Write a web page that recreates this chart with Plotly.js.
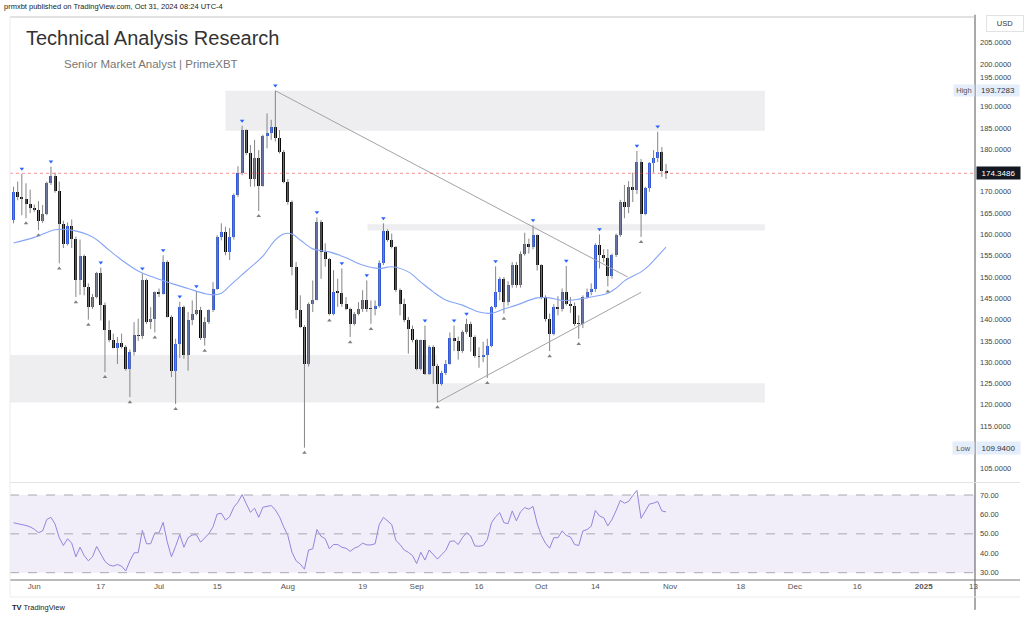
<!DOCTYPE html>
<html><head><meta charset="utf-8">
<script src="https://cdn.plot.ly/plotly-3.0.1.min.js"></script>
<style>html,body{margin:0;padding:0;background:#fff;}#chart{width:1024px;height:618px;}</style>
</head><body><div id="chart"></div>
<script>
// ---------- DATA ----------
const dates = [
'2024-05-27','2024-05-28','2024-05-29','2024-05-30','2024-05-31',
'2024-06-01','2024-06-02','2024-06-03','2024-06-04','2024-06-05','2024-06-06','2024-06-07','2024-06-08','2024-06-09','2024-06-10',
'2024-06-11','2024-06-12','2024-06-13','2024-06-14','2024-06-15','2024-06-16','2024-06-17','2024-06-18','2024-06-19','2024-06-20',
'2024-06-21','2024-06-22','2024-06-23','2024-06-24','2024-06-25','2024-06-26','2024-06-27','2024-06-28','2024-06-29','2024-06-30',
'2024-07-01','2024-07-02','2024-07-03','2024-07-04','2024-07-05','2024-07-06','2024-07-07','2024-07-08','2024-07-09','2024-07-10',
'2024-07-11','2024-07-12','2024-07-13','2024-07-14','2024-07-15','2024-07-16','2024-07-17','2024-07-18','2024-07-19','2024-07-20',
'2024-07-21','2024-07-22','2024-07-23','2024-07-24','2024-07-25','2024-07-26','2024-07-27','2024-07-28','2024-07-29','2024-07-30','2024-07-31',
'2024-08-01','2024-08-02','2024-08-03','2024-08-04','2024-08-05','2024-08-06','2024-08-07','2024-08-08','2024-08-09','2024-08-10',
'2024-08-11','2024-08-12','2024-08-13','2024-08-14','2024-08-15','2024-08-16','2024-08-17','2024-08-18','2024-08-19','2024-08-20',
'2024-08-21','2024-08-22','2024-08-23','2024-08-24','2024-08-25','2024-08-26','2024-08-27','2024-08-28','2024-08-29','2024-08-30','2024-08-31',
'2024-09-01','2024-09-02','2024-09-03','2024-09-04','2024-09-05','2024-09-06','2024-09-07','2024-09-08','2024-09-09','2024-09-10',
'2024-09-11','2024-09-12','2024-09-13','2024-09-14','2024-09-15','2024-09-16','2024-09-17','2024-09-18','2024-09-19','2024-09-20',
'2024-09-21','2024-09-22','2024-09-23','2024-09-24','2024-09-25','2024-09-26','2024-09-27','2024-09-28','2024-09-29','2024-09-30',
'2024-10-01','2024-10-02','2024-10-03','2024-10-04','2024-10-05','2024-10-06','2024-10-07','2024-10-08','2024-10-09','2024-10-10',
'2024-10-11','2024-10-12','2024-10-13','2024-10-14','2024-10-15','2024-10-16','2024-10-17','2024-10-18','2024-10-19','2024-10-20',
'2024-10-21','2024-10-22','2024-10-23','2024-10-24','2024-10-25','2024-10-26','2024-10-27','2024-10-28','2024-10-29','2024-10-30','2024-10-31'
];
const openP = [
163.3,169.9,168.8,168.2,167.2,
166.2,165.7,163.1,164.9,172.0,173.7,170.3,162.4,157.8,162.0,159.0,149.4,154.9,147.7,143.0,145.3,151.0,143.4,137.5,135.3,133.4,134.5,133.5,128.5,132.4,136.5,136.2,149.2,139.4,140.2,
146.5,146.1,153.5,140.6,128.0,134.2,143.0,131.6,139.8,141.4,142.3,135.6,139.4,142.2,147.3,159.4,160.6,155.9,159.3,169.2,174.3,184.5,179.0,173.1,177.9,171.4,183.1,183.9,185.1,182.6,179.4,
172.4,167.6,152.4,142.2,138.3,129.6,143.7,144.7,163.0,155.9,154.3,141.4,146.5,146.3,143.7,142.6,139.0,141.4,142.6,144.5,142.6,142.4,143.2,153.2,160.8,158.8,157.1,146.9,143.7,139.8,137.9,
135.1,128.5,135.1,127.3,133.6,129.2,124.9,127.4,129.6,135.6,135.0,132.6,137.0,139.0,135.9,131.4,131.2,131.6,133.9,143.0,146.5,149.6,144.1,148.1,152.8,148.1,155.5,157.7,157.1,159.8,
152.8,145.3,140.2,136.7,143.0,142.6,146.5,143.7,143.3,139.0,138.9,145.3,146.5,147.3,157.5,155.1,154.5,150.2,155.1,159.8,167.7,166.4,171.2,170.5,177.1,164.9,170.8,176.7,177.9,179.4,174.9
];
const highP = [
171.2,172.4,174.2,172.0,170.5,
167.0,167.8,166.9,172.4,175.9,174.5,172.4,163.2,162.8,163.5,159.5,158.8,155.3,148.5,146.0,151.2,152.2,144.0,139.8,136.7,135.9,136.7,134.0,133.0,139.4,140.2,150.8,149.6,142.9,146.6,
147.3,155.1,153.9,141.0,135.5,144.2,143.3,141.8,144.5,146.6,143.0,140.6,142.4,148.8,159.8,162.6,161.8,161.5,169.6,176.0,185.5,184.7,181.0,182.2,179.8,183.4,188.4,186.9,193.7283,184.5,179.8,
173.0,168.0,153.5,145.7,138.7,144.0,149.2,164.0,163.4,157.9,154.5,151.6,149.6,152.0,145.3,142.8,141.8,144.1,146.9,149.2,144.5,144.5,153.9,162.6,161.2,160.2,157.3,147.3,144.9,140.6,138.6,
135.5,135.3,138.6,134.0,134.0,129.6,128.0,130.5,137.0,138.6,136.0,137.5,140.2,139.5,136.3,133.5,134.8,135.5,143.2,152.5,150.0,150.0,149.0,153.5,153.5,156.0,160.4,159.0,162.1,160.0,
153.0,145.7,141.4,143.6,145.5,147.3,152.6,145.3,144.0,141.0,145.7,147.3,148.5,157.9,160.0,156.5,156.5,155.5,160.2,168.1,171.6,172.5,174.5,179.6,177.7,171.2,177.0,179.8,184.1,180.5,176.5
];
const lowP = [
162.6,168.0,164.5,163.8,165.0,
165.3,161.0,162.7,164.5,171.6,169.8,153.2,156.8,157.4,156.8,145.3,145.8,145.7,140.0,142.5,145.0,139.8,127.7,134.7,133.2,129.6,133.2,128.0,121.8,131.6,135.0,135.5,139.0,137.8,137.0,
145.3,145.9,140.5,126.5,120.2,131.0,130.8,128.0,138.7,141.0,135.2,133.9,139.0,141.8,147.0,158.6,155.1,154.0,158.8,168.8,173.9,178.6,171.2,171.2,165.5,171.2,180.2,182.2,181.8,179.0,172.0,
167.0,150.4,140.2,138.0,109.94,129.0,141.8,144.5,149.6,152.4,141.0,141.0,143.0,143.0,142.2,135.9,138.6,141.0,141.8,141.8,139.0,141.0,142.8,152.8,158.3,156.7,146.5,141.0,139.4,132.0,134.7,
128.1,128.1,127.0,127.0,124.9,120.6,124.5,127.0,129.4,132.6,130.6,132.2,136.6,132.5,131.0,128.7,130.0,126.3,133.5,142.6,144.5,141.4,143.3,147.5,147.5,147.5,155.0,155.5,156.5,151.5,
144.8,139.5,132.6,136.3,141.0,141.9,143.3,141.6,138.5,135.5,138.0,144.9,145.7,146.5,152.0,153.5,147.8,149.6,154.7,159.4,163.8,165.0,167.6,169.5,159.4,164.5,170.0,174.5,177.0,173.5,173.0
];
const closeP = [
169.9,168.8,168.2,167.2,166.2,
165.7,163.1,164.9,172.0,173.7,170.3,162.4,157.8,162.0,159.0,149.4,154.9,147.7,143.0,145.3,151.0,143.4,137.5,135.3,133.4,134.5,133.5,128.5,132.4,136.5,136.2,149.2,139.4,140.2,146.5,
146.1,153.5,140.6,128.0,134.2,143.0,131.6,139.8,141.4,142.3,135.6,139.4,142.2,147.3,159.4,160.6,155.9,159.3,169.2,174.3,184.5,179.0,173.1,177.9,171.4,183.1,183.9,185.1,182.6,179.4,172.4,
167.6,152.4,142.2,138.3,129.6,143.7,144.7,163.0,155.9,154.3,141.4,146.5,146.3,143.7,142.6,139.0,141.4,142.6,144.5,142.6,142.4,143.2,153.2,160.8,158.8,157.1,146.9,143.7,139.8,137.9,135.1,
128.5,135.1,127.3,133.6,129.2,124.9,127.4,129.6,135.6,135.0,132.6,137.0,139.0,135.9,131.4,131.2,131.6,133.9,143.0,146.5,149.6,144.1,148.1,152.8,148.1,155.5,157.7,157.1,159.8,152.8,
145.3,140.2,136.7,143.0,142.6,146.5,143.7,143.3,139.0,138.9,145.3,146.5,147.3,157.5,155.1,154.5,150.2,155.1,159.8,167.7,166.4,171.2,170.5,177.1,164.9,170.8,176.7,177.9,179.4,174.9,174.3486
];
const rsiValues = [
55.7,55.3,54.8,54.3,53.6,
52.4,50.6,51.5,57.4,58.5,55.0,48.0,44.0,47.5,45.2,38.2,43.1,38.8,36.1,38.2,43.5,39.3,35.8,34.0,33.4,34.2,33.4,30.9,36.1,40.2,40.3,51.8,44.9,44.9,50.5,
50.5,55.9,45.7,38.2,43.6,49.6,43.1,48.0,49.4,49.6,45.7,48.0,50.1,53.6,60.2,60.6,57.1,58.8,63.7,66.3,70.2,65.5,61.1,63.2,58.5,63.7,64.2,64.6,62.3,58.8,53.6,
49.2,40.5,36.1,34.4,31.8,41.7,42.3,52.2,48.7,47.5,42.3,44.5,44.5,43.1,42.6,41.0,42.6,43.5,45.2,44.3,44.3,44.9,54.8,58.5,56.7,54.8,46.6,44.5,41.7,40.5,38.8,
34.7,40.5,36.5,41.7,39.3,37.0,39.3,41.4,46.1,46.4,44.5,48.0,50.6,48.9,43.8,43.6,44.0,47.0,55.7,58.8,60.9,55.7,55.3,61.8,56.7,61.4,63.5,62.7,64.1,55.3,
49.2,45.2,42.6,48.0,48.0,51.5,49.2,48.4,44.5,44.0,51.5,52.2,53.9,62.0,59.2,58.3,54.1,57.4,62.0,67.2,65.8,66.7,69.7,72.4,58.0,61.4,65.3,65.8,66.7,61.8,61.3
];
const maDates = ['2024-05-27','2024-06-01','2024-06-06','2024-06-10','2024-06-15','2024-06-19','2024-06-22','2024-06-26','2024-06-30','2024-07-04','2024-07-08','2024-07-12','2024-07-14','2024-07-16','2024-07-18','2024-07-22','2024-07-26','2024-07-29','2024-07-31','2024-08-02','2024-08-04','2024-08-07','2024-08-11','2024-08-15','2024-08-19','2024-08-23','2024-08-26','2024-08-30','2024-09-02','2024-09-05','2024-09-08','2024-09-12','2024-09-16','2024-09-19','2024-09-22','2024-09-25','2024-09-30','2024-10-03','2024-10-06','2024-10-10','2024-10-13','2024-10-17','2024-10-19','2024-10-21','2024-10-23','2024-10-25','2024-10-27','2024-10-29','2024-10-31'];
const maValues = [158.0,159.3,161.1,161.0,159.4,156.3,154.0,151.4,149.8,148.5,147.3,146.1,145.8,146.2,147.9,151.4,154.9,158.7,160.1,160.1,158.7,156.6,155.9,154.5,152.8,152.0,152.4,151.2,148.8,146.5,144.6,143.4,141.8,141.5,142.5,143.4,145.1,145.1,144.5,144.8,145.3,146.2,147.4,149.1,150.2,151.2,152.8,154.9,157.0];
const pivotHighDates = ['2024-05-29','2024-06-05','2024-06-17','2024-06-27','2024-07-02','2024-07-06','2024-07-10','2024-07-21','2024-07-29','2024-08-08','2024-08-14','2024-08-20','2024-08-24','2024-09-03','2024-09-10','2024-09-13','2024-09-20','2024-09-29','2024-10-07','2024-10-15','2024-10-24','2024-10-29'];
const pivotLowDates = ['2024-05-30','2024-06-02','2024-06-07','2024-06-11','2024-06-14','2024-06-18','2024-06-24','2024-06-30','2024-07-05','2024-07-12','2024-07-25','2024-08-05','2024-08-11','2024-08-16','2024-08-21','2024-09-06','2024-09-18','2024-09-22','2024-10-03','2024-10-10','2024-10-17','2024-10-25'];
const zoneStart = ['2024-07-17','2024-08-20 04:00','2024-05-26 03:36','2024-09-05 22:00'];
const zoneEnd = ['2024-11-23 19:00','2024-11-23 19:00','2024-09-05 22:00','2024-11-23 19:00'];
const zoneTop = [193.7, 162.4, 131.7, 125.05];
const zoneBottom = [184.35, 160.9, 120.55, 120.55];
const trendStartDate = ['2024-07-29','2024-09-06'];
const trendStartPrice = [193.7283, 120.6];
const trendEndDate = ['2024-10-21 19:00','2024-10-25'];
const trendEndPrice = [150.0, 146.4];
const lastPrice = 174.3486, highValue = 193.7283, lowValue = 109.94;
const priceTicks = [105,115,120,125,130,135,140,145,150,155,160,165,170,180,185,190,200,205];
const coveredTick = 195;
const rsiTicks = [30,40,50,60,70];
const xTickDates = ['2024-06-01','2024-06-17','2024-07-01','2024-07-15','2024-08-01','2024-08-19','2024-09-01','2024-09-16','2024-10-01','2024-10-14','2024-11-01','2024-11-18','2024-12-01','2024-12-16','2025-01-01','2025-01-13'];
const xTickText = ['Jun','17','Jul','15','Aug','19','Sep','16','Oct','14','Nov','18','Dec','16','<b>2025</b>','13'];

// ---------- BUILD ----------
const FONT = 'Liberation Sans, Arial, sans-serif';
const xRange = ['2024-05-26 03:36','2025-01-13 08:24'];
const wx = [], wy = [];
for (let i = 0; i < dates.length; i++) { wx.push(dates[i], dates[i], null); wy.push(lowP[i], highP[i], null); }
const upX=[],upB=[],upH=[],dnX=[],dnB=[],dnH=[];
for (let i = 0; i < dates.length; i++) {
  const b = Math.min(openP[i], closeP[i]); const h = Math.max(Math.abs(closeP[i]-openP[i]), 0.3);
  if (closeP[i] >= openP[i]) { upX.push(dates[i]); upB.push(b); upH.push(h); }
  else { dnX.push(dates[i]); dnB.push(b); dnH.push(h); }
}
const bw = 0.72*86400000;
const phY = pivotHighDates.map(d => highP[dates.indexOf(d)] + 1.2);
const plY = pivotLowDates.map(d => lowP[dates.indexOf(d)] - 1.2);

const traces = [
  {type:'scatter', mode:'lines', x:wx, y:wy, line:{color:'#858585', width:1}, hoverinfo:'skip', xaxis:'x', yaxis:'y'},
  {type:'bar', x:upX, base:upB, y:upH, width:bw, marker:{color:'#3158d8', line:{width:0}}, xaxis:'x', yaxis:'y'},
  {type:'bar', x:dnX, base:dnB, y:dnH, width:bw, marker:{color:'#0a0a0a', line:{width:0}}, xaxis:'x', yaxis:'y'},
  {type:'scatter', mode:'lines', x:maDates, y:maValues, line:{color:'#86a5f6', width:1.1, shape:'spline'}, xaxis:'x', yaxis:'y'},
  {type:'scatter', mode:'markers', x:pivotHighDates, y:phY, marker:{symbol:'triangle-down', size:4, color:'#2962ff'}, xaxis:'x', yaxis:'y'},
  {type:'scatter', mode:'markers', x:pivotLowDates, y:plY, marker:{symbol:'triangle-up', size:4, color:'#808080'}, xaxis:'x', yaxis:'y'},
  {type:'scatter', mode:'lines', x:dates, y:rsiValues, line:{color:'#9385dc', width:1}, xaxis:'x2', yaxis:'y2'}
];

const shapes = [];
for (let i = 0; i < zoneStart.length; i++) {
  shapes.push({type:'rect', xref:'x', yref:'y', x0:zoneStart[i], x1:zoneEnd[i], y0:zoneBottom[i], y1:zoneTop[i], fillcolor:'#eeeef1', line:{width:0}, layer:'below'});
}
for (let i = 0; i < trendStartDate.length; i++) {
  shapes.push({type:'line', xref:'x', yref:'y', x0:trendStartDate[i], y0:trendStartPrice[i], x1:trendEndDate[i], y1:trendEndPrice[i], line:{color:'#a3a3a3', width:1}});
}
shapes.push({type:'rect', xref:'paper', yref:'y2', x0:0, x1:1, y0:30, y1:70, fillcolor:'#f1eef9', line:{width:0}, layer:'below'});
[70,50,30].forEach(v => shapes.push({type:'line', xref:'paper', yref:'y2', x0:0, x1:1, y0:v, y1:v, line:{color:'#a8a8b0', width:1, dash:'dash'}}));
shapes.push({type:'line', xref:'paper', yref:'y', x0:0, x1:1, y0:lastPrice, y1:lastPrice, line:{color:'rgba(242,54,69,0.55)', width:1, dash:'dot'}});
shapes.push({type:'line', xref:'paper', yref:'paper', x0:1, x1:1, y0:-0.053, y1:1.004, line:{color:'#555', width:1}});
shapes.push({type:'line', xref:'paper', yref:'paper', x0:0, x1:1.0466, y0:0, y1:0, line:{color:'#777', width:1}});
shapes.push({type:'line', xref:'paper', yref:'paper', x0:0, x1:1.0466, y0:0.1732, y1:0.1732, line:{color:'#e4e4e4', width:1}});
shapes.push({type:'line', xref:'paper', yref:'paper', x0:0, x1:1, y0:1.0, y1:1.0, line:{color:'#c4c4c4', width:1}});
shapes.push({type:'line', xref:'paper', yref:'paper', x0:0, x1:0, y0:-0.03, y1:1.0, line:{color:'#ececec', width:1}});
shapes.push({type:'line', xref:'paper', yref:'paper', x0:0, x1:1.0466, y0:-0.0302, y1:-0.0302, line:{color:'#ececec', width:1}});

const annotations = [
  {xref:'paper', yref:'paper', x:-0.0083, y:1.0178, xanchor:'left', yanchor:'middle', showarrow:false, text:'prmxbt published on TradingView.com, Oct 31, 2024 08:24 UTC-4', font:{family:FONT, size:7.5, color:'#222'}},
  {xref:'paper', yref:'paper', x:0.0145, y:0.962, xanchor:'left', yanchor:'middle', showarrow:false, text:'Technical Analysis Research', font:{family:FONT, size:20, color:'#333'}},
  {xref:'paper', yref:'paper', x:0.0539, y:0.9165, xanchor:'left', yanchor:'middle', showarrow:false, text:'Senior Market Analyst | PrimeXBT', font:{family:FONT, size:11.5, color:'#777'}},
  {xref:'paper', yref:'paper', x:0, y:-0.048, xanchor:'left', yanchor:'middle', showarrow:false, text:'<b>TV</b> TradingView', font:{family:FONT, size:7.5, color:'#222'}},
  {xref:'paper', yref:'paper', x:1.031, y:0.9893, xanchor:'center', yanchor:'middle', showarrow:false, text:'USD', font:{family:FONT, size:7.5, color:'#333'}, bordercolor:'#e2e2e2', borderwidth:1, borderpad:3, bgcolor:'#fff', width:30},
  {xref:'paper', yref:'y', x:1, y:coveredTick, xanchor:'left', yanchor:'bottom', xshift:4, yshift:2, showarrow:false, text:coveredTick.toFixed(4), font:{family:FONT, size:7.5, color:'#444'}, borderpad:0},
  {xref:'paper', yref:'y', x:1, y:lastPrice, xanchor:'left', yanchor:'middle', xshift:1, showarrow:false, text:lastPrice.toFixed(4), font:{family:FONT, size:8, color:'#fff'}, bgcolor:'#131722', borderpad:1.5, width:40},
  {xref:'paper', yref:'y', x:1, y:highValue, xanchor:'right', yanchor:'middle', showarrow:false, text:'High', font:{family:FONT, size:7.5, color:'#555'}, bgcolor:'#e4edfb', borderpad:1, width:18},
  {xref:'paper', yref:'y', x:1, y:highValue, xanchor:'left', yanchor:'middle', xshift:1, showarrow:false, text:highValue.toFixed(4), font:{family:FONT, size:8, color:'#333'}, bgcolor:'#e4edfb', borderpad:1, width:40},
  {xref:'paper', yref:'y', x:1, y:lowValue, xanchor:'right', yanchor:'middle', showarrow:false, text:'Low', font:{family:FONT, size:7.5, color:'#555'}, bgcolor:'#e4edfb', borderpad:1.5, width:18},
  {xref:'paper', yref:'y', x:1, y:lowValue, xanchor:'left', yanchor:'middle', xshift:1, showarrow:false, text:lowValue.toFixed(4), font:{family:FONT, size:8, color:'#333'}, bgcolor:'#e4edfb', borderpad:1.5, width:40}
];

const layout = {
  width:1024, height:618, margin:{l:10, r:49, t:17, b:38},
  paper_bgcolor:'#fff', plot_bgcolor:'#fff', showlegend:false, barmode:'overlay', bargap:0,
  font:{family:FONT, size:8, color:'#444'},
  xaxis:{type:'date', range:xRange, domain:[0,1], anchor:'y', showticklabels:false, showgrid:false, zeroline:false, showline:false, fixedrange:true},
  xaxis2:{type:'date', range:xRange, domain:[0,1], anchor:'y2', tickmode:'array', tickvals:xTickDates, ticktext:xTickText, showgrid:false, zeroline:false, showline:false, ticks:'', tickfont:{family:FONT, size:8, color:'#555'}, fixedrange:true},
  yaxis:{domain:[0.17407,1], range:[101.88,211.03], side:'right', anchor:'x', tickmode:'array', tickvals:priceTicks, tickformat:'.4f', showgrid:false, zeroline:false, showline:false, ticks:'', ticklabelstandoff:4, tickfont:{family:FONT, size:7.5, color:'#444'}, fixedrange:true},
  yaxis2:{domain:[0,0.17229], range:[26.24,76.18], side:'right', anchor:'x2', tickmode:'array', tickvals:rsiTicks, tickformat:'.2f', showgrid:false, zeroline:false, showline:false, ticks:'', ticklabelstandoff:4, tickfont:{family:FONT, size:7.5, color:'#444'}, fixedrange:true},
  shapes:shapes, annotations:annotations
};
Plotly.newPlot('chart', traces, layout, {displayModeBar:false, staticPlot:true});
</script></body></html>
